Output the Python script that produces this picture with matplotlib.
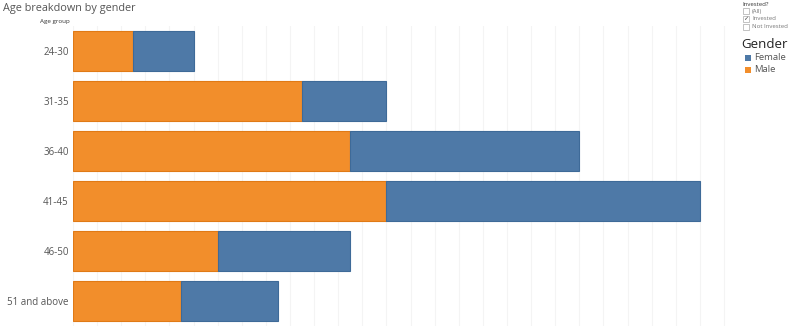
import matplotlib
matplotlib.use("Agg")
import matplotlib.pyplot as plt
from matplotlib.patches import Rectangle

plt.rcParams['font.family'] = ['Open Sans', 'DejaVu Sans']

age_groups = ["24-30", "31-35", "36-40", "41-45", "46-50", "51 and above"]
male = [5, 19, 23, 26, 12, 9]
female = [5, 7, 19, 26, 11, 8]
x_ticks = list(range(0, 56, 2))

orange = "#F28E2B"
blue = "#4E79A7"

fig = plt.figure(figsize=(8, 3.26), dpi=100)
ax = fig.add_axes([73/800, 0, (730-73)/800, 300/326])

y = list(range(len(age_groups)))
ax.barh(y, male, height=0.8, color=orange, edgecolor="#E07A16", linewidth=0.8, zorder=2)
ax.barh(y, female, left=male, height=0.8, color=blue, edgecolor="#3E6A98", linewidth=0.8, zorder=2)

ax.set_ylim(len(age_groups) - 0.5, -0.5)
ax.set_xlim(0, 54.5)
ax.set_xticks(x_ticks)
ax.xaxis.grid(True, color="#f4f4f4", linewidth=0.8, zorder=0)
ax.tick_params(axis='x', length=0, labelbottom=False)
ax.tick_params(axis='y', length=0, labelsize=7, labelcolor="#555555", pad=3)
ax.set_yticks(y)
ax.set_yticklabels(age_groups)
for s in ax.spines.values():
    s.set_visible(False)

fig.text(3/800, 1 - 8/326, "Age breakdown by gender", fontsize=7.8, color="#555555", va="center", ha="left")
fig.text(70/800, 1 - 22/326, "Age group", fontsize=4.5, color="#333333", va="center", ha="right")

# Filter legend
fig.text(742/800, 1 - 4/326, "Invested?", fontsize=4.3, color="#333333", va="center", ha="left")
filters = ["(All)", "Invested", "Not Invested"]
checked = [False, True, False]
for i, (lab, chk) in enumerate(zip(filters, checked)):
    yy = 1 - (11 + i * 8) / 326
    fig.patches.append(Rectangle((743/800, yy - 2.7/326), 5.5/800, 5.5/326, transform=fig.transFigure,
                                 facecolor="white", edgecolor="#aaaaaa", linewidth=0.5))
    if chk:
        fig.text(745.7/800, yy, "✓", fontsize=4.5, color="#444444", va="center", ha="center", family="DejaVu Sans")
    fig.text(752/800, yy, lab, fontsize=4.3, color="#777777", va="center", ha="left")

fig.text(741/800, 1 - 44/326, "Gender", fontsize=9.5, color="#222222", va="center", ha="left")
for i, (lab, col) in enumerate(zip(["Female", "Male"], [blue, orange])):
    yy = 1 - (58 + i * 12) / 326
    fig.patches.append(Rectangle((745/800, yy - 3/326), 6/800, 6/326, transform=fig.transFigure,
                                 facecolor=col, edgecolor="none"))
    fig.text(754/800, yy, lab, fontsize=6.8, color="#555555", va="center", ha="left")

fig.savefig("out.png", dpi=100)
